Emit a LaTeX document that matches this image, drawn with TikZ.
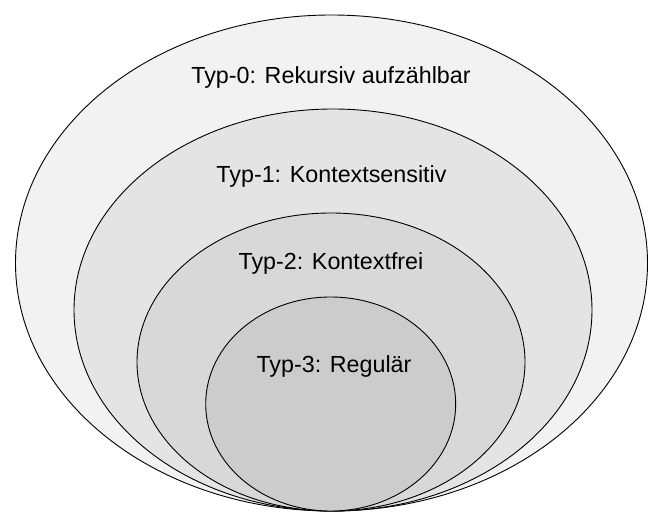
\documentclass[tikz,border=0pt]{standalone}
\usepackage{fontspec}
\setmainfont{Liberation Sans}
\usetikzlibrary{shapes.geometric}
\definecolor{fillA}{HTML}{F2F2F2}
\definecolor{fillB}{HTML}{E4E4E4}
\definecolor{fillC}{HTML}{D8D8D8}
\definecolor{fillD}{HTML}{CCCCCC}
\begin{document}
\begin{tikzpicture}[x=1pt,y=-1pt,
  setellipse/.style={ellipse,draw=black,line width=0.9pt,inner sep=0pt},
  setlabel/.style={anchor=base,inner sep=0pt,font=\fontsize{23.3pt}{27pt}\selectfont}]
\useasboundingbox[fill=white] (0,0) rectangle (662,526);
\node[setellipse,fill=fillA,minimum width=632pt,minimum height=496pt] (e0) at (331.5,263) {};
\node[setellipse,fill=fillB,minimum width=518pt,minimum height=402pt] (e1) at (333,310) {};
\node[setellipse,fill=fillC,minimum width=388pt,minimum height=298pt] (e2) at (331,362) {};
\node[setellipse,fill=fillD,minimum width=250pt,minimum height=214pt] (e3) at (330.7,404) {};
\node[setlabel] (t0) at (331,84) {Typ-0: Rekursiv aufzählbar};
\node[setlabel] (t1) at (331.5,183) {Typ-1: Kontextsensitiv};
\node[setlabel] (t2) at (331,270) {Typ-2: Kontextfrei};
\node[setlabel] (t3) at (334,373) {Typ-3: Regulär};
\end{tikzpicture}
\end{document}
